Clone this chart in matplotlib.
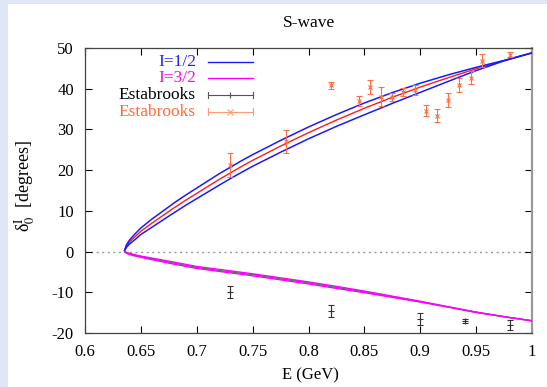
import matplotlib
matplotlib.use("Agg")
import matplotlib.pyplot as plt
from matplotlib.patches import Rectangle

plt.rcParams['font.family'] = ['Liberation Serif', 'DejaVu Serif']
plt.rcParams['mathtext.fontset'] = 'stix'
plt.rcParams['axes.unicode_minus'] = False

# I=1/2 phase shift band (central value and error band limits)
e_half = [0.6355, 0.637, 0.640, 0.645, 0.650, 0.660, 0.670, 0.680, 0.690, 0.700,
          0.710, 0.720, 0.730, 0.740, 0.750, 0.775, 0.800, 0.825, 0.850, 0.875,
          0.900, 0.925, 0.950, 0.975, 1.000]
half_central = [0.3, 1.3, 2.4, 3.7, 5.0, 7.0, 8.9, 10.8, 12.6, 14.3,
                16.0, 17.7, 19.3, 20.9, 22.4, 25.9, 29.2, 32.3, 35.2, 37.9,
                40.4, 42.7, 44.9, 46.9, 48.8]
half_upper = [0.3, 1.6, 2.9, 4.4, 5.8, 8.0, 10.0, 12.0, 13.85, 15.6,
              17.35, 19.1, 20.7, 22.3, 23.8, 27.3, 30.6, 33.65, 36.5, 39.05,
              41.35, 43.4, 45.25, 46.95, 48.8]
half_lower = [0.3, 1.0, 1.9, 3.0, 4.2, 6.0, 7.8, 9.6, 11.35, 13.0,
              14.65, 16.3, 17.9, 19.45, 20.95, 24.4, 27.7, 30.75, 33.6, 36.4,
              39.1, 41.8, 44.45, 46.85, 48.8]

# I=3/2 phase shift band
e_three = [0.6355, 0.637, 0.640, 0.645, 0.650, 0.660, 0.675, 0.700, 0.725, 0.750,
           0.775, 0.800, 0.825, 0.850, 0.875, 0.900, 0.925, 0.950, 0.975, 1.000]
three_central = [0.0, -0.3, -0.6, -0.95, -1.25, -1.8, -2.6, -3.9, -4.8, -5.7,
                 -6.7, -7.7, -8.8, -9.9, -11.1, -12.3, -13.6, -14.9, -16.0, -17.0]
three_upper = [0.0, -0.2, -0.45, -0.8, -1.1, -1.6, -2.35, -3.65, -4.55, -5.45,
               -6.45, -7.45, -8.55, -9.7, -10.95, -12.2, -13.55, -14.85, -16.0, -17.0]
three_lower = [0.0, -0.4, -0.75, -1.1, -1.4, -2.0, -2.85, -4.15, -5.05, -5.95,
               -6.95, -7.95, -9.05, -10.1, -11.25, -12.4, -13.65, -14.95, -16.0, -17.0]

# Estabrooks data, I=3/2
est3_e = [0.73, 0.82, 0.90, 0.94, 0.98]
est3_d = [-10.0, -14.5, -16.5, -17.0, -18.0]
est3_err = [1.5, 1.5, 1.5, 0.5, 1.2]

# Estabrooks data, I=1/2
est1_e = [0.73, 0.78, 0.82, 0.845, 0.855, 0.865, 0.875, 0.885, 0.895, 0.905,
          0.915, 0.925, 0.935, 0.945, 0.955, 0.98]
est1_d = [21.2, 27.1, 40.8, 36.9, 40.4, 38.0, 38.0, 39.1, 39.7, 34.6,
          33.4, 37.2, 40.9, 42.7, 46.9, 48.4]
est1_err = [3.0, 2.8, 0.8, 1.2, 1.7, 2.3, 0.9, 1.0, 1.3, 1.3,
            1.6, 1.7, 1.8, 1.6, 1.6, 0.6]

xticks = [0.6, 0.65, 0.7, 0.75, 0.8, 0.85, 0.9, 0.95, 1.0]
xticklabels = ['0.6', '0.65', '0.7', '0.75', '0.8', '0.85', '0.9', '0.95', '1']
yticks = [-20, -10, 0, 10, 20, 30, 40, 50]

W, H = 547, 387
FS = 12
fig = plt.figure(figsize=(W / 100, H / 100), dpi=100)
fig.patch.set_facecolor('#dfe7f6')
fig.add_artist(Rectangle((8 / W, 0), 1, 1 - 4 / H, transform=fig.transFigure,
                         facecolor='white', edgecolor='none', zorder=-5))

ax = fig.add_axes([85 / W, 1 - 333 / H, (532 - 85) / W, (333 - 48) / H])
ax.set_facecolor('white')

BLUE = '#1a1aff'
RED = '#ff1a1a'
MAGENTA = '#ff00ff'
GREEN = '#20a020'
ORANGE = '#ff7040'
DARK = '#333333'

ax.axhline(0, color='#999999', lw=1.0, ls=(0, (1.5, 2.5)), zorder=1)

ax.plot(e_half, half_central, color=RED, lw=1.0, zorder=3)
ax.plot(e_half, half_upper, color=BLUE, lw=1.1, zorder=4)
ax.plot(e_half, half_lower, color=BLUE, lw=1.1, zorder=4)

ax.plot(e_three, three_central, color=GREEN, lw=1.0, zorder=3)
ax.plot(e_three, three_upper, color=MAGENTA, lw=1.0, zorder=4)
ax.plot(e_three, three_lower, color=MAGENTA, lw=1.0, zorder=4)

ax.errorbar(est3_e, est3_d, yerr=est3_err, fmt='+', color=DARK, ms=4, mew=0.8,
            elinewidth=0.8, capsize=2.5, capthick=0.8, zorder=5)
ax.errorbar(est1_e, est1_d, yerr=est1_err, fmt='x', color=ORANGE, ms=3.5, mew=0.8,
            elinewidth=0.8, capsize=2.5, capthick=0.8, zorder=5)

ax.set_xlim(0.6, 1.0)
ax.set_ylim(-20, 50)
ax.set_xticks(xticks)
ax.set_xticklabels(xticklabels)
ax.set_yticks(yticks)
ax.tick_params(direction='in', length=5, width=0.8, top=True, right=True,
               labelsize=FS, colors='black')
ax.tick_params(axis='x', pad=8)
ax.tick_params(axis='y', pad=8)
for side in ['left', 'top', 'bottom']:
    ax.spines[side].set_color('#444444')
    ax.spines[side].set_linewidth(0.9)
ax.spines['right'].set_color('#999999')
ax.spines['right'].set_linewidth(1.6)

# key in the upper left corner: text right-aligned, sample to its right
key_text_x = 0.248
key_x0, key_x1, key_xm = 0.2745, 0.3765, 0.3255
rows = [0.952, 0.894, 0.835, 0.777]
tr = ax.transAxes
ax.text(key_text_x, rows[0], 'I=1/2', color='#2020ff', ha='right', va='center',
        fontsize=FS + 0.5, transform=tr)
ax.plot([key_x0, key_x1], [rows[0]] * 2, color=BLUE, lw=1.0, transform=tr)
ax.text(key_text_x, rows[1], 'I=3/2', color=MAGENTA, ha='right', va='center',
        fontsize=FS + 0.5, transform=tr)
ax.plot([key_x0, key_x1], [rows[1]] * 2, color=MAGENTA, lw=1.0, transform=tr)
for row, col, mk, txt_col in [(rows[2], '#555555', '+', 'black'),
                              (rows[3], '#ff9a78', 'x', '#ff6a3a')]:
    ax.text(key_text_x, row, 'Estabrooks', color=txt_col, ha='right', va='center',
            fontsize=FS + 0.5, transform=tr)
    ax.plot([key_x0, key_x1], [row] * 2, color=col, lw=0.8, transform=tr)
    for xx in (key_x0, key_x1):
        ax.plot([xx, xx], [row - 0.012, row + 0.012], color=col, lw=0.8, transform=tr)
    ax.plot([key_xm], [row], marker=mk, color=col, ms=4, mew=0.8, transform=tr)

fig.text(308.5 / W, 1 - 23 / H, 'S-wave', ha='center', va='center', fontsize=FS + 0.5)
fig.text(310 / W, 1 - 375 / H, 'E (GeV)', ha='center', va='center', fontsize=FS)
fig.text(25 / W, 1 - 186 / H, r'$\mathregular{\delta}_0^{\mathrm{I}}$  [degrees]',
         rotation=90, ha='center', va='center', fontsize=FS + 1)

fig.savefig('out.png', dpi=100)
